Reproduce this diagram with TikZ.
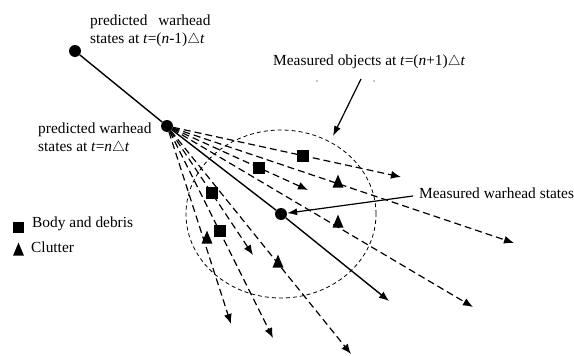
\documentclass[tikz,border=0pt]{standalone}
\usepackage{fontspec}
\setmainfont{Liberation Serif}
\usepackage{tikz}
\usetikzlibrary{arrows.meta, shapes.geometric}

\tikzset{
  dot/.style={circle, fill, inner sep=0pt, minimum size=12pt},
  debris/.style={rectangle, fill, inner sep=0pt, minimum size=11.5pt},
  clutter/.style={isosceles triangle, isosceles triangle stretches, shape border rotate=90,
                  fill, inner sep=0pt, minimum width=11pt, minimum height=13pt},
  speck/.style={circle, fill, inner sep=0pt, minimum size=1.4pt},
  lbl/.style={inner sep=0pt, align=left, font=\fontsize{15.4}{18}\selectfont},
  fan/.style={line width=1.2pt, dash pattern=on 7pt off 4pt, -{Latex[length=10pt,width=8pt]}},
  track/.style={line width=1.4pt, -{Latex[length=10pt,width=8pt]}},
  zone/.style={line width=0.8pt, dash pattern=on 4pt off 3pt},
  pointer/.style={line width=1.2pt, -{Latex[length=10pt,width=7pt]}},
}

\begin{document}
\begin{tikzpicture}[x=1pt, y=-1pt]
        \useasboundingbox (0,0) rectangle (574,356);

        % warhead states
        \node[dot] (prev) at (75,51) {};
        \node[dot] (cur) at (167,126) {};
        \node[dot] (meas) at (281,214) {};

        % arrow ends
        \coordinate (eA) at (401,177);
        \coordinate (eB) at (514,243);
        \coordinate (eC) at (308,190);
        \coordinate (eD) at (473,307);
        \coordinate (eS) at (389,301);
        \coordinate (eF) at (351,354);
        \coordinate (eG) at (253,255);
        \coordinate (eH) at (273,338);
        \coordinate (eI) at (231,324);

        % gate
        \draw[zone] (meas.center) ellipse [x radius=95pt, y radius=84pt];

        % predicted objects
        \foreach \e in {eA,eB,eC,eD,eF,eG,eH,eI}
            \draw[fan] (cur) -- (\e);
        \draw[track] (prev) -- (cur) -- (meas) -- (eS);

        % measured objects
        \node[debris] (b1) at (303,156) {};
        \node[debris] (b2) at (259,168) {};
        \node[debris] (b3) at (212,193) {};
        \node[debris] (b4) at (220,231) {};
        \node[clutter] (c1) at (338,184) {};
        \node[clutter] (c2) at (338,224) {};
        \node[clutter] (c3) at (278,264) {};
        \node[clutter] (c4) at (207,240) {};

        % labels
        \node[lbl, anchor=north west] (prevlbl) at (90,15)
            {predicted\hspace{10.8pt}warhead\\states at \textit{t}=(\textit{n}-1)$\triangle$\textit{t}};
        \node[lbl, anchor=north west] (curlbl) at (38,123)
            {predicted warhead\\states at \textit{t}=\textit{n}$\triangle$\textit{t}};
        \node[lbl, anchor=base west] (objlbl) at (273,65)
            {Measured objects at \textit{t}=(\textit{n}+1)$\triangle$\textit{t}};
        \node[lbl, anchor=base west] (warlbl) at (419,198) {Measured warhead states};
        \node[speck] (s1) at (317,81) {};
        \node[speck] (s2) at (374,81) {};

        \coordinate (objtail) at (361,79);
        \coordinate (objtip) at (333,136);
        \draw[pointer] (objtail) -- (objtip);
        \coordinate (wartail) at (413,196);
        \draw[pointer] (wartail) -- (meas);

        % legend
        \node[debris] (legsq) at (18.5,227.5) {};
        \node[lbl, anchor=base west] (legsqlbl) at (32,227) {Body and debris};
        \node[clutter] (legtri) at (18.5,252) {};
        \node[lbl, anchor=base west] (legtrilbl) at (31,252) {Clutter};
    \end{tikzpicture}
\end{document}
